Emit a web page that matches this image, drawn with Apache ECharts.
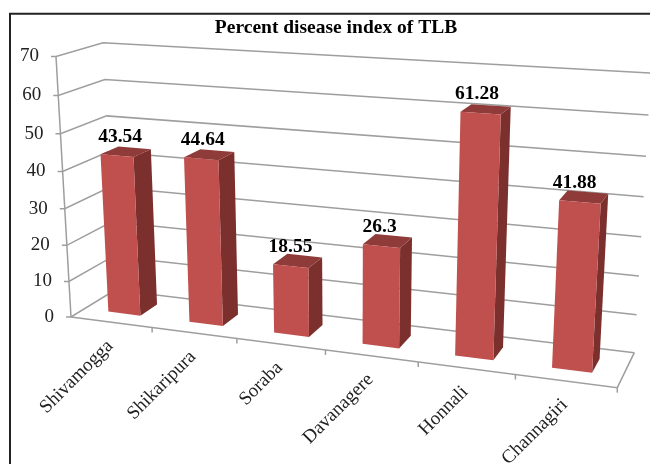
<!DOCTYPE html>
<html>
<head>
<meta charset="utf-8">
<style>
  html, body { margin: 0; padding: 0; background: #fff; }
  #main { width: 650px; height: 464px; }
</style>
<script src="https://cdn.jsdelivr.net/npm/echarts@6/dist/echarts.min.js"></script>
</head>
<body>
<div id="main"></div>
<script>
const categories = ['Shivamogga', 'Shikaripura', 'Soraba', 'Davanagere', 'Honnali', 'Channagiri'];
const diseaseIndex = [43.54, 44.64, 18.55, 26.3, 61.28, 41.88];
const valueTicks = [0, 10, 20, 30, 40, 50, 60, 70];

const SERIF = '"Liberation Serif", "Times New Roman", serif';
const FRONT = '#c0504d', SIDE = '#7b302e', TOP = '#8f3b39';
const LINE = '#9e9e9e';

// floor corners of the 3d box as seen on the picture, the rest comes from the vertical vanishing point
const FL = [71, 317], FR = [617.3, 387.7], BR = [634.3, 352.7], BL = [115, 290];
const TOP_LEFT_Y = 56.5;
const VANISH = [349, 5145];

function buildCamera() {
  const dx1 = FR[0] - BR[0], dx2 = BL[0] - BR[0], sx = FL[0] - FR[0] + BR[0] - BL[0];
  const dy1 = FR[1] - BR[1], dy2 = BL[1] - BR[1], sy = FL[1] - FR[1] + BR[1] - BL[1];
  const det = dx1 * dy2 - dx2 * dy1;
  const g = (sx * dy2 - dx2 * sy) / det;
  const h = (dx1 * sy - sx * dy1) / det;
  const w = (FL[1] - TOP_LEFT_Y) / (TOP_LEFT_Y - VANISH[1]);
  return {
    xr: [FR[0] - FL[0] + g * FR[0], BL[0] - FL[0] + h * BL[0], w * VANISH[0], FL[0]],
    yr: [FR[1] - FL[1] + g * FR[1], BL[1] - FL[1] + h * BL[1], w * VANISH[1], FL[1]],
    wr: [g, h, w, 1]
  };
}
const cam = buildCamera();

// u along categories, d into the picture, h up the value axis, all 0..1
function project(u, d, h) {
  const dot = r => r[0] * u + r[1] * d + r[2] * h + r[3];
  const w = dot(cam.wr);
  return [dot(cam.xr) / w, dot(cam.yr) / w];
}

function heightOf(api, v) {
  return 1 - api.coord([0, v])[1] / api.getHeight();
}

function line(points, color, width) {
  return {
    type: 'polyline',
    shape: { points: points },
    style: { stroke: color || LINE, lineWidth: width || 1.5, fill: null }
  };
}

function face(points, color) {
  return { type: 'polygon', shape: { points: points }, style: { fill: color } };
}

function renderGridLine(params, api) {
  const h = heightOf(api, api.value(1));
  const a = project(0, 0, h);
  const children = [
    line([[a[0] - 5, a[1]], a, project(0, 1, h), project(1, 1, h)])
  ];
  children.push({
    type: 'text',
    x: a[0] - 17,
    y: a[1],
    style: {
      text: String(api.value(1)),
      font: '19px ' + SERIF,
      fill: '#222',
      align: 'right',
      verticalAlign: 'middle'
    }
  });
  return { type: 'group', children: children };
}

function renderCategory(params, api) {
  const i = api.value(0);
  const pos = api.coord([i, 0]);
  const band = api.size([1, 0])[0];
  const width = api.getWidth();
  const right = (pos[0] + band / 2) / width;
  const mid = project(pos[0] / width, 0, 0);
  const tick = project(right, 0, 0);
  return {
    type: 'group',
    children: [
      line([tick, [tick[0], tick[1] + 5]]),
      {
        type: 'text',
        x: mid[0] - 1,
        y: mid[1] + 21,
        rotation: Math.PI / 4,
        style: {
          text: categories[i],
          font: '19px ' + SERIF,
          fill: '#222',
          align: 'right',
          verticalAlign: 'middle'
        }
      }
    ]
  };
}

function renderFrame(params, api) {
  const top = heightOf(api, 70);
  return {
    type: 'group',
    children: [
      line([project(0, 0, 0), project(0, 0, top)]),
      line([project(0, 0, 0), project(1, 0, 0), project(1, 1, 0)])
    ]
  };
}

function renderBar(params, api) {
  const i = api.value(0);
  const value = api.value(1);
  const pos = api.coord([i, value]);
  const band = api.size([1, 0])[0];
  const width = api.getWidth();
  const u0 = (pos[0] - band * 0.2) / width;
  const u1 = (pos[0] + band * 0.2) / width;
  const d0 = 0.3, d1 = 0.7;
  const h = heightOf(api, value);
  const mid = (u0 + u1) / 2;
  const labelAt = project(mid, d0, h);
  return {
    type: 'group',
    children: [
      face([project(u1, d0, 0), project(u1, d1, 0), project(u1, d1, h), project(u1, d0, h)], SIDE),
      face([project(u0, d0, h), project(u1, d0, h), project(u1, d1, h), project(u0, d1, h)], TOP),
      face([project(u0, d0, 0), project(u1, d0, 0), project(u1, d0, h), project(u0, d0, h)], FRONT),
      {
        type: 'text',
        x: labelAt[0] + 4 - 10 * mid,
        y: labelAt[1] - 19,
        style: {
          text: String(value),
          font: 'bold 19.5px ' + SERIF,
          fill: '#000',
          align: 'center',
          verticalAlign: 'middle'
        }
      }
    ]
  };
}

const chart = echarts.init(document.getElementById('main'));
chart.setOption({
  animation: false,
  backgroundColor: '#fff',
  title: {
    text: 'Percent disease index of TLB',
    left: 336,
    top: 18,
    textAlign: 'center',
    padding: 0,
    textStyle: { fontFamily: SERIF, fontSize: 19.5, fontWeight: 'bold', color: '#000' }
  },
  graphic: [{
    type: 'rect',
    shape: { x: 10, y: 13.7, width: 700, height: 500 },
    style: { fill: null, stroke: '#222', lineWidth: 2 },
    silent: true
  }],
  grid: { left: 0, top: 0, width: '100%', height: '100%', containLabel: false },
  xAxis: { type: 'category', data: categories, show: false },
  yAxis: { type: 'value', min: 0, max: 70, interval: 10, show: false },
  series: [
    {
      type: 'custom',
      silent: true,
      renderItem: renderGridLine,
      encode: { x: 0, y: 1 },
      data: valueTicks.map(v => [0, v])
    },
    {
      type: 'custom',
      silent: true,
      renderItem: renderFrame,
      encode: { x: 0, y: 1 },
      data: [[0, 0]]
    },
    {
      type: 'custom',
      silent: true,
      renderItem: renderCategory,
      encode: { x: 0, y: 1 },
      data: categories.map((c, i) => [i, 0])
    },
    {
      type: 'custom',
      silent: true,
      renderItem: renderBar,
      encode: { x: 0, y: 1 },
      data: diseaseIndex.map((v, i) => [i, v])
    }
  ]
});
</script>
</body>
</html>
